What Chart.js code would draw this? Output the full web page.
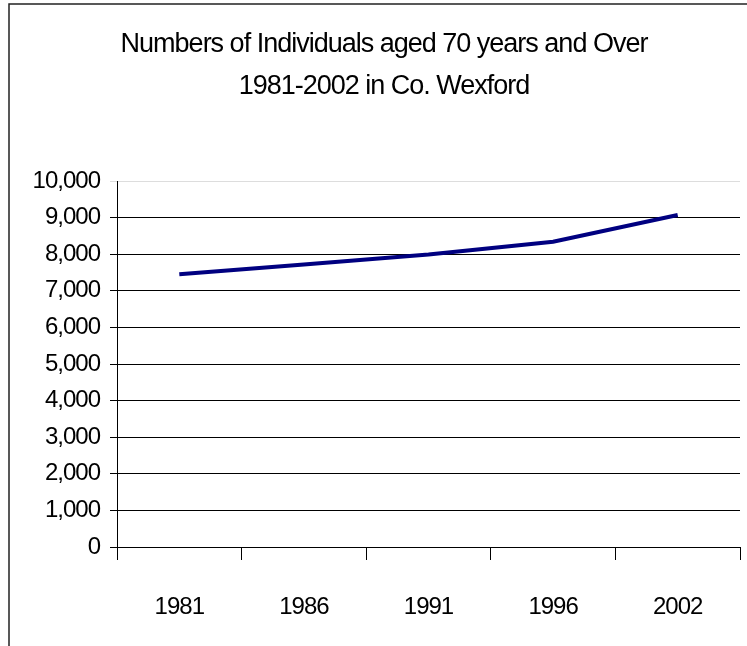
<!DOCTYPE html>
<html>
<head>
<meta charset="utf-8">
<script src="https://cdn.jsdelivr.net/npm/chart.js@4/dist/chart.umd.min.js"></script>
<style>
  body { margin: 0; background: #fff; }
  canvas { display: block; }
</style>
</head>
<body>
<canvas id="ageChart" width="747" height="646"></canvas>
<script>
// data
const years = ['1981', '1986', '1991', '1996', '2002'];
const over70 = [7450, 7720, 7990, 8340, 9070];
const titleLines = ['Numbers of Individuals aged 70 years and Over', '1981-2002 in Co. Wexford'];

const FONT = '"Liberation Sans", Arial, sans-serif';

// tight letter spacing like the old excel rendering + frame on left/top
const framePlugin = {
    id: 'frame',
    beforeLayout(chart) { chart.ctx.letterSpacing = '-1px'; },
    beforeDraw(chart) {
        const ctx = chart.ctx;
        ctx.letterSpacing = '-1px';
        ctx.save();
        ctx.strokeStyle = '#222';
        ctx.lineWidth = 1.5;
        ctx.beginPath();
        ctx.moveTo(9, chart.height);
        ctx.lineTo(9, 4);
        ctx.lineTo(chart.width, 4);
        ctx.stroke();
        ctx.restore();
    }
};

const ctx = document.getElementById('ageChart').getContext('2d');
const ageChart = new Chart(ctx, {
    type: 'line',
    data: {
        labels: years,
        datasets: [{
            data: over70,
            borderColor: '#000080',
            borderWidth: 4,
            pointRadius: 0,
            tension: 0,
            fill: false
        }]
    },
    options: {
        responsive: false,
        animation: false,
        layout: { padding: { left: 28, right: 7, top: 0, bottom: 0 } },
        plugins: {
            legend: { display: false },
            tooltip: { enabled: false },
            title: {
                display: true,
                text: titleLines,
                color: '#000',
                font: { family: FONT, size: 27, weight: 'normal', lineHeight: 1.556 },
                padding: { top: 24, bottom: 73 }
            }
        },
        scales: {
            x: {
                offset: true,
                grid: {
                    offset: true,
                    drawOnChartArea: false,
                    drawTicks: true,
                    tickLength: 13,
                    color: '#000'
                },
                border: { color: '#000', width: 1 },
                ticks: {
                    color: '#000',
                    padding: 33,
                    maxRotation: 0,
                    font: { family: FONT, size: 24 }
                },
                afterFit(scale) { scale.height = 99; }
            },
            y: {
                min: 0,
                max: 10000,
                grid: {
                    tickLength: 7,
                    color: (c) => c.tick && c.tick.value === 10000 ? '#ddd' : '#000'
                },
                border: { color: '#000', width: 1 },
                ticks: {
                    stepSize: 1000,
                    color: '#000',
                    padding: 10,
                    font: { family: FONT, size: 24 },
                    callback: (v) => v.toLocaleString('en-US')
                },
                afterFit(scale) { scale.width = 89; }
            }
        }
    },
    plugins: [framePlugin]
});
</script>
</body>
</html>
